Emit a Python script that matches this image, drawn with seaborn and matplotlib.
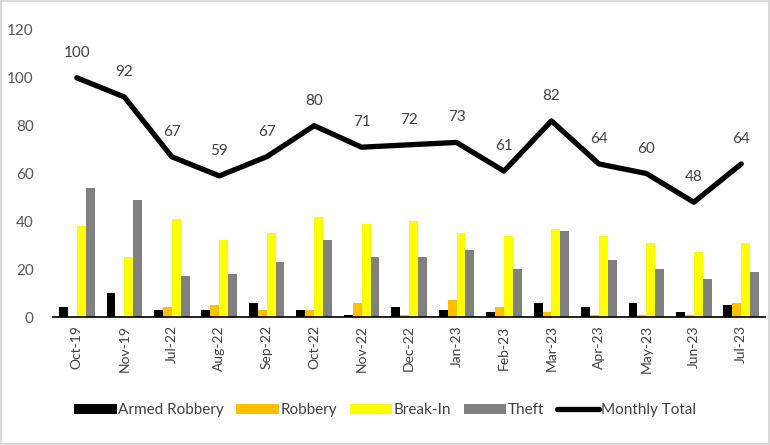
import numpy as np
import pandas as pd
import matplotlib
matplotlib.use("Agg")
import matplotlib.pyplot as plt
import seaborn as sns
from matplotlib.patches import Patch
from matplotlib.lines import Line2D

months = ["Oct-19", "Nov-19", "Jul-22", "Aug-22", "Sep-22", "Oct-22", "Nov-22", "Dec-22",
          "Jan-23", "Feb-23", "Mar-23", "Apr-23", "May-23", "Jun-23", "Jul-23"]
armed_robbery = [4, 10, 3, 3, 6, 3, 1, 4, 3, 2, 6, 4, 6, 2, 5]
robbery = [0, 0, 4, 5, 3, 3, 6, 1, 7, 4, 2, 1, 1, 1, 6]
break_in = [38, 25, 41, 32, 35, 42, 39, 40, 35, 34, 37, 34, 31, 27, 31]
theft = [54, 49, 17, 18, 23, 32, 25, 25, 28, 20, 36, 24, 20, 16, 19]
monthly_total = [100, 92, 67, 59, 67, 80, 71, 72, 73, 61, 82, 64, 60, 48, 64]

series_names = ["Armed Robbery", "Robbery", "Break-In", "Theft"]
colors = ["#000000", "#FFC000", "#FFFF00", "#808080"]

sns.set_theme(style="white")
plt.rcParams["font.family"] = ["Lato", "DejaVu Sans"]

df = pd.DataFrame({
    "Month": months * 4,
    "Type": sum([[n] * len(months) for n in series_names], []),
    "Count": armed_robbery + robbery + break_in + theft,
})

fig = plt.figure(figsize=(7.7, 4.45), dpi=100)
fig.patch.set_edgecolor("#D9D9D9")
fig.patch.set_linewidth(1.5)
ax = fig.add_axes([0.069, 0.2876, 0.9245, 0.645])

sns.barplot(data=df, x="Month", y="Count", hue="Type", order=months,
            hue_order=series_names, palette=colors, width=0.75, gap=0,
            saturation=1, ax=ax, legend=False, edgecolor="none")

line_df = pd.DataFrame({"pos": np.arange(len(months)), "total": monthly_total})
sns.lineplot(data=line_df, x="pos", y="total", color="black", linewidth=3.8,
             ax=ax, legend=False)

for i, v in enumerate(monthly_total):
    ax.annotate(str(v), (i, v), xytext=(0, 18), textcoords="offset points",
                ha="center", va="center", fontsize=11, color="#404040")

ax.set_ylim(0, 120)
ax.set_xlim(-0.5, len(months) - 0.5)
ax.set_yticks(range(0, 121, 20))
ax.set_xlabel("")
ax.set_ylabel("")
ax.set_xticks(range(len(months)))
ax.set_xticklabels(months, rotation=90, fontsize=10, color="#404040")
ax.tick_params(axis="y", labelsize=11, labelcolor="#595959", length=0, pad=14)
ax.tick_params(axis="x", which="major", length=0, pad=6)
ax.set_xticks(np.arange(-0.5, len(months), 1), minor=True)
ax.tick_params(axis="x", which="minor", length=5, width=1.2, color="black", direction="out")
for s in ["top", "right", "left"]:
    ax.spines[s].set_visible(False)
ax.spines["bottom"].set_color("black")
ax.spines["bottom"].set_linewidth(1.2)
ax.grid(False)

handles = [Patch(facecolor=c, edgecolor="none") for c in colors]
handles.append(Line2D([0], [0], color="black", linewidth=3.8))
fig.legend(handles, series_names + ["Monthly Total"], loc="center",
           bbox_to_anchor=(0.5, 0.078), ncol=5, frameon=False, fontsize=11,
           handlelength=2.8, handleheight=0.6, handletextpad=0.1, columnspacing=0.8,
           labelcolor="#404040")

fig.savefig("out.png", dpi=100, edgecolor=fig.get_edgecolor())
